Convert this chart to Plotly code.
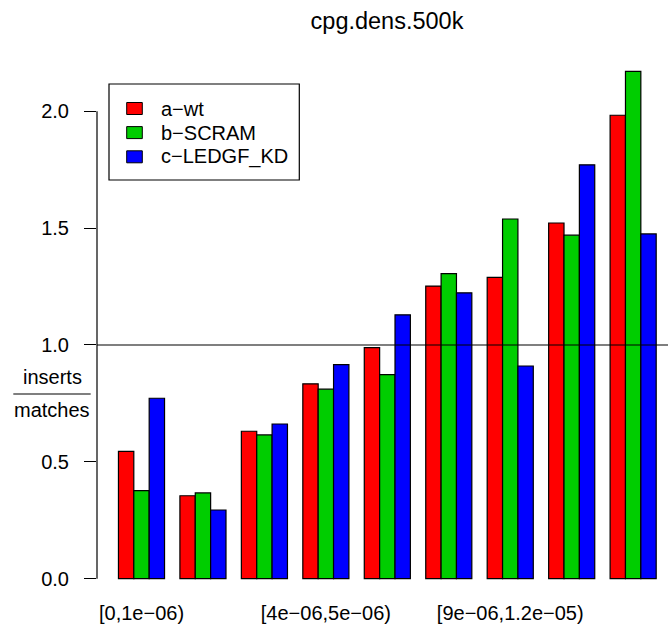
import plotly.graph_objects as go

# ---- data ----
categories = ["[0,1e\u221206)", "[1e\u221206,2e\u221206)", "[2e\u221206,4e\u221206)",
              "[4e\u221206,5e\u221206)", "[5e\u221206,7e\u221206)", "[7e\u221206,9e\u221206)",
              "[9e\u221206,1.2e\u221205)", "[1.2e\u221205,1.6e\u221205)", "[1.6e\u221205,4e\u221205]"]
shown_labels = [categories[0], categories[3], categories[6]]
series_names = ["a\u2212wt", "b\u2212SCRAM", "c\u2212LEDGF_KD"]
a_wt = [0.545, 0.355, 0.631, 0.834, 0.989, 1.252, 1.289, 1.522, 1.983]
b_scram = [0.377, 0.367, 0.615, 0.811, 0.873, 1.305, 1.539, 1.470, 2.171]
c_ledgf_kd = [0.772, 0.294, 0.662, 0.916, 1.129, 1.223, 0.910, 1.771, 1.475]
y_ticks = [0.0, 0.5, 1.0, 1.5, 2.0]
ref_line = 1.0
title_text = "cpg.dens.500k"

colors = ["#FF0000", "#00CD00", "#0000FF"]
FONT = "Liberation Sans, Arial, sans-serif"

W, H = 668, 632
ML, MR, MT, MB = 97, 0, 51, 33


def px_x(p):
    return (p - ML) / (W - ML - MR)


def px_y(p):
    return (H - MB - p) / (H - MT - MB)


fig = go.Figure()
for name, vals, col in zip(series_names, [a_wt, b_scram, c_ledgf_kd], colors):
    fig.add_trace(go.Bar(x=categories, y=vals, name=name, showlegend=False,
                         marker=dict(color=col, line=dict(color="black", width=1.2))))

ymax = max(a_wt + b_scram + c_ledgf_kd)

fig.update_layout(
    width=W, height=H,
    margin=dict(l=ML, r=MR, t=MT, b=MB, pad=0),
    paper_bgcolor="white", plot_bgcolor="white",
    font=dict(family=FONT, size=20, color="black"),
    barmode="group", bargap=0.25, bargroupgap=0,
    title=dict(text=title_text, x=px_x(387), xref="paper", xanchor="center",
               y=1 - 21 / H, yref="container", yanchor="middle",
               font=dict(size=23.5, color="black", family=FONT)),
    showlegend=False,
)

fig.update_xaxes(type="category", range=[-0.724, 8.567], showgrid=False, zeroline=False,
                 showline=False, ticks="", tickmode="array",
                 tickvals=shown_labels, ticktext=shown_labels,
                 tickfont=dict(size=20, family=FONT, color="black"))
fig.update_yaxes(range=[-0.04 * ymax, 1.04 * ymax], showgrid=False, zeroline=False,
                 showline=False, ticks="outside", ticklen=12, tickwidth=1.2, tickcolor="black",
                 tickmode="array", tickvals=y_ticks, ticktext=[f"{v:.1f}" for v in y_ticks],
                 ticklabelstandoff=11,
                 tickfont=dict(size=20, family=FONT, color="black"))

# axis line spanning only the tick range (R style)
fig.add_shape(type="line", xref="paper", yref="y", x0=0, x1=0,
              y0=min(y_ticks), y1=max(y_ticks), line=dict(color="black", width=1.2))
# reference line
fig.add_shape(type="line", xref="paper", yref="y", x0=0, x1=1, y0=ref_line, y1=ref_line,
              line=dict(color="black", width=1.2), layer="above")

# legend (R style box)
fig.add_shape(type="rect", xref="paper", yref="paper",
              x0=px_x(109), x1=px_x(299.3), y0=px_y(84), y1=px_y(180),
              line=dict(color="black", width=1.2), fillcolor="rgba(0,0,0,0)")
row_centers = [108.5, 132.6, 156.8]
for name, col, rc in zip(series_names, colors, row_centers):
    fig.add_shape(type="rect", xref="paper", yref="paper",
                  x0=px_x(126.7), x1=px_x(142.3), y0=px_y(rc - 6), y1=px_y(rc + 6),
                  line=dict(color="black", width=1), fillcolor=col)
    fig.add_annotation(text=name, xref="paper", yref="paper", x=px_x(158.5), y=px_y(rc),
                       xanchor="left", yanchor="middle", showarrow=False,
                       font=dict(size=20, family=FONT, color="black"))

# y label as fraction
fig.add_annotation(text="inserts", xref="paper", yref="paper", x=px_x(52), y=px_y(377),
                   xanchor="center", yanchor="middle", showarrow=False,
                   font=dict(size=20, family=FONT, color="black"))
fig.add_annotation(text="matches", xref="paper", yref="paper", x=px_x(52), y=px_y(410),
                   xanchor="center", yanchor="middle", showarrow=False,
                   font=dict(size=20, family=FONT, color="black"))
fig.add_shape(type="line", xref="paper", yref="paper", x0=px_x(13.3), x1=px_x(90.7),
              y0=px_y(394), y1=px_y(394), line=dict(color="black", width=1.2))

fig.write_html("out.html")
